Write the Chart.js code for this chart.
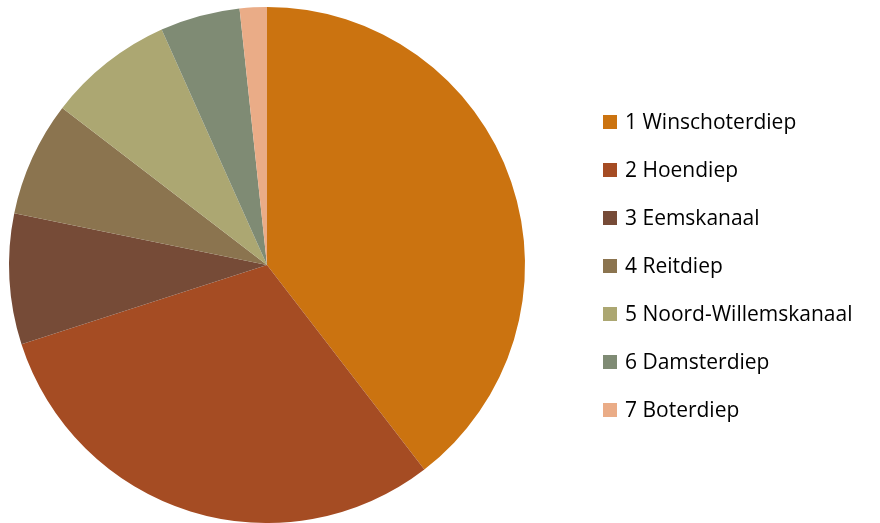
<!DOCTYPE html>
<html><head><meta charset="utf-8">
<script src="https://cdn.jsdelivr.net/npm/chart.js@4/dist/chart.umd.min.js"></script>
<style>html,body{margin:0;padding:0;background:#fff}#wrap{width:880px;height:523px;position:relative}</style>
</head><body><div id="wrap"><canvas id="c" width="880" height="523"></canvas></div>
<script>
const categories = ["1 Winschoterdiep","2 Hoendiep","3 Eemskanaal","4 Reitdiep","5 Noord-Willemskanaal","6 Damsterdiep","7 Boterdiep"];
const values = [39.6, 30.5, 8.2, 7.2, 7.9, 5.0, 1.7];
const colors = ["#CB7310","#A54C23","#764B37","#8B744F","#ACA772","#7F8B74","#EAAC87"];

const legendPlugin = {
  id: 'sideLegend',
  afterDraw(chart) {
    const ctx = chart.ctx;
    ctx.save();
    ctx.font = '21px "Open Sans", sans-serif';
    ctx.textBaseline = 'middle';
    const x0 = 603, y0 = 122, step = 48;
    chart.data.labels.forEach((lab, i) => {
      const y = y0 + i * step;
      ctx.fillStyle = chart.data.datasets[0].backgroundColor[i];
      ctx.fillRect(x0, y - 7, 14, 14);
      ctx.fillStyle = '#000';
      ctx.fillText(lab, x0 + 22, y + 1);
    });
    ctx.restore();
  }
};

new Chart(document.getElementById('c'), {
  type: 'pie',
  data: { labels: categories, datasets: [{ data: values, backgroundColor: colors, borderWidth: 0 }] },
  options: {
    responsive: false, animation: false,
    layout: { padding: { left: 9, top: 7, right: 355, bottom: 0 } },
    plugins: { legend: { display: false }, tooltip: { enabled: false } }
  },
  plugins: [legendPlugin]
});
</script></body></html>
